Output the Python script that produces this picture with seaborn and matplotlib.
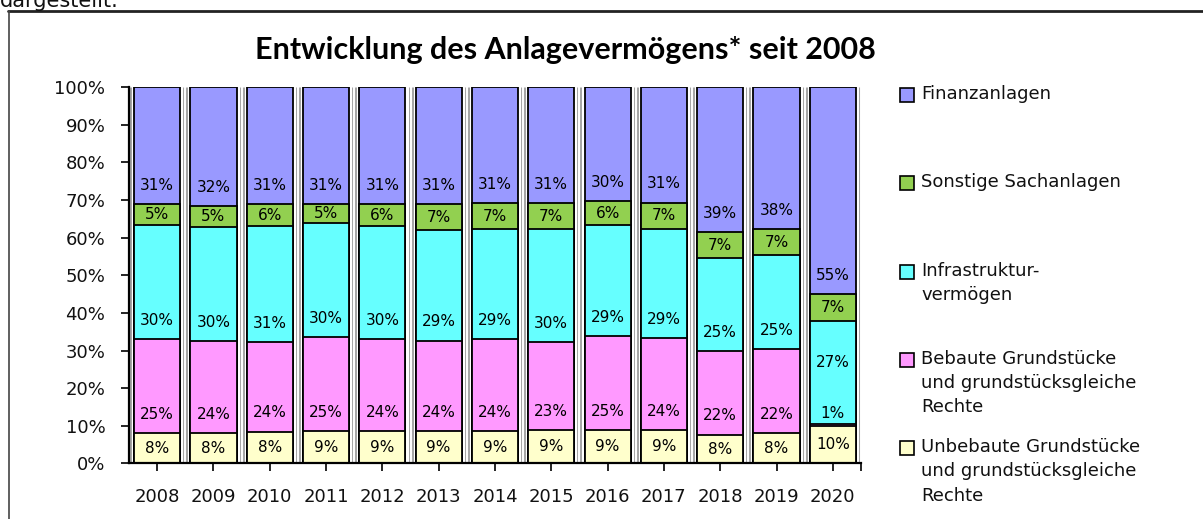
import numpy as np
import pandas as pd
import matplotlib
matplotlib.use("Agg")
import matplotlib.pyplot as plt
from matplotlib.patches import Rectangle
from matplotlib.lines import Line2D
import seaborn as sns

# Anteile am Anlagevermögen in %, von unten nach oben gestapelt
years = [str(y) for y in range(2008, 2021)]
unbebaute = [8.1, 8.1, 8.4, 8.6, 8.6, 8.6, 8.6, 8.9, 8.9, 8.9, 7.6, 8.1, 9.8]
bebaute = [25.0, 24.4, 23.8, 24.9, 24.4, 24.0, 24.4, 23.4, 25.0, 24.4, 22.2, 22.3, 0.7]
infrastruktur = [30.4, 30.4, 30.9, 30.3, 30.0, 29.4, 29.3, 30.0, 29.4, 29.1, 24.8, 25.1, 27.4]
sonstige = [5.4, 5.4, 5.8, 5.1, 5.9, 6.9, 6.9, 6.9, 6.4, 6.9, 6.8, 6.7, 7.1]
finanz = [31.1, 31.7, 31.1, 31.1, 31.1, 31.1, 30.8, 30.8, 30.3, 30.7, 38.6, 37.8, 55.0]

series = ["Unbebaute", "Bebaute", "Infrastruktur", "Sonstige", "Finanz"]
legend_labels = {
    "Finanz": "Finanzanlagen",
    "Sonstige": "Sonstige Sachanlagen",
    "Infrastruktur": "Infrastruktur-\nvermögen",
    "Bebaute": "Bebaute Grundstücke\nund grundstücksgleiche\nRechte",
    "Unbebaute": "Unbebaute Grundstücke\nund grundstücksgleiche\nRechte",
}
colors = {
    "Unbebaute": "#FFFFCC",
    "Bebaute": "#FF99FF",
    "Infrastruktur": "#66FFFF",
    "Sonstige": "#92D050",
    "Finanz": "#9999FF",
}

df = pd.DataFrame({"Unbebaute": unbebaute, "Bebaute": bebaute,
                   "Infrastruktur": infrastruktur, "Sonstige": sonstige,
                   "Finanz": finanz}, index=years)
cum = df.cumsum(axis=1)

sns.set_theme(style="white")
plt.rcParams["font.family"] = ["DejaVu Sans"]

fig, ax = plt.subplots(figsize=(12.03, 5.19), dpi=100)
fig.subplots_adjust(left=0.1072, right=0.7157, bottom=0.1073, top=0.8318)

# graue Doppellinien zwischen den Säulen
bounds = np.arange(len(years) + 1) - 0.5
ax.vlines(bounds, 0, 100, color="#A6A6A6", lw=3.6, zorder=1)
ax.vlines(bounds, 0, 100, color="white", lw=1.4, zorder=1.5)

# Säulen: kumulierte Summen von oben nach unten übereinander zeichnen
for name in reversed(series):
    sns.barplot(x=years, y=cum[name].values, color=colors[name], saturation=1,
                width=0.82, edgecolor="black", linewidth=1.3, errorbar=None,
                ax=ax, zorder=3)

# Datenbeschriftungen
prev_pos = np.full(len(years), -100.0)
for name in series:
    h = df[name].values
    base = cum[name].values - h
    for i in range(len(years)):
        pos = base[i] + min(h[i] / 2, 5.0)
        if h[i] < 2:
            pos = base[i] + h[i] + 2.8
        elif pos - prev_pos[i] < 5:
            pos = base[i] + 0.6 * h[i]
        prev_pos[i] = pos
        ax.text(i, pos, f"{h[i]:.0f}%", ha="center", va="center",
                fontsize=11, color="black", zorder=5)

ax.set_xlim(-0.5, len(years) - 0.5)
ax.set_ylim(0, 100)
ax.set_yticks(range(0, 101, 10))
ax.set_yticklabels([f"{v}%" for v in range(0, 101, 10)])
ax.set_xticks(range(len(years)))
ax.set_xticklabels(years)
ax.set_xticks([len(years) - 0.5], minor=True)
ax.set_xlabel("")
ax.set_ylabel("")

for side in ["top", "right"]:
    ax.spines[side].set_visible(False)
for side in ["left", "bottom"]:
    ax.spines[side].set_color("black")
    ax.spines[side].set_linewidth(1.6)
    ax.spines[side].set_zorder(4)

ax.tick_params(axis="both", which="both", direction="out", length=6, width=1.2,
               color="black", labelsize=13, labelcolor="#111111")
ax.tick_params(axis="y", left=True, pad=11)
ax.tick_params(axis="x", bottom=True, pad=12)
ax.tick_params(axis="x", which="minor", bottom=True, length=6)

# Titel
fig.text(565 / 1203, 1 - 50 / 519, "Entwicklung des Anlagevermögens* seit 2008",
         ha="center", va="center", fontsize=22, fontweight="bold", color="black",
         family=["Lato", "DejaVu Sans"])

# Legende von Hand, jeweils an der ersten Textzeile ausgerichtet
W, H = 1203, 519
for k, name in enumerate(reversed(series)):
    yc = 95 + k * 88.25
    fig.patches.append(Rectangle((900 / W, 1 - (yc + 7) / H), 14 / W, 14 / H,
                                 transform=fig.transFigure, facecolor=colors[name],
                                 edgecolor="black", linewidth=1.2))
    fig.text(921 / W, 1 - (yc - 10) / H, legend_labels[name], ha="left", va="top",
             fontsize=13, linespacing=1.45, color="#111111")

# Rahmen des Diagrammbereichs und abgeschnittener Text darüber
fig.add_artist(Line2D([8 / W, 1], [1 - 10.5 / H] * 2, transform=fig.transFigure,
                      color="#222222", lw=2))
fig.add_artist(Line2D([8.5 / W] * 2, [0, 1 - 10.5 / H], transform=fig.transFigure,
                      color="#444444", lw=1.2))
fig.text(0 / W, 1 - 7 / H, "dargestellt.", ha="left", va="baseline", fontsize=15,
         color="#111111")

fig.savefig("out.png", dpi=100)
